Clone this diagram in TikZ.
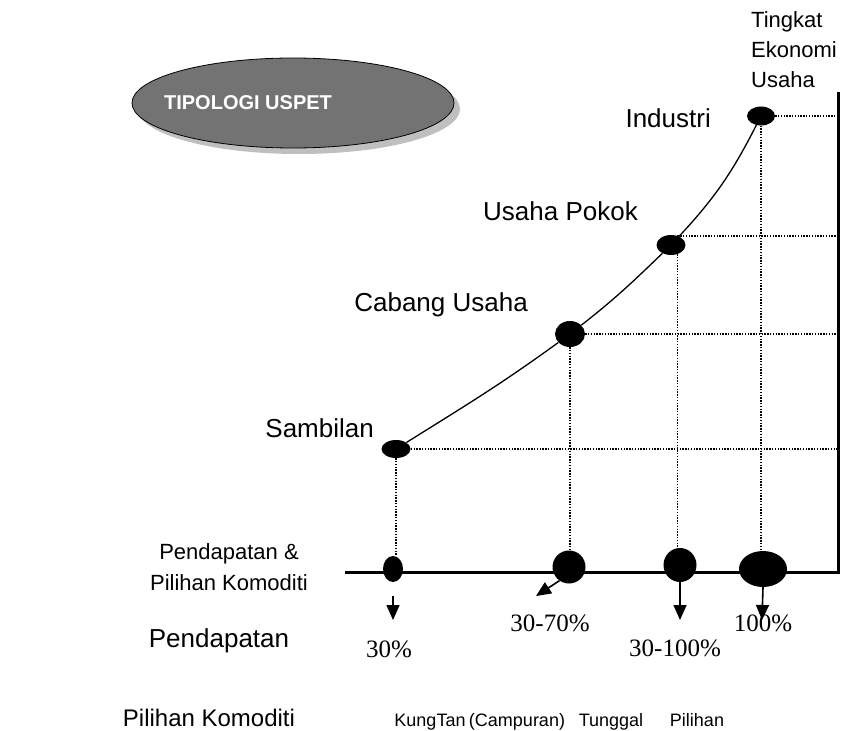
\documentclass[tikz,border=0pt]{standalone}
\usepackage{fontspec}
\setmainfont{Liberation Sans}
\newfontfamily\timesf{Liberation Serif}
\usetikzlibrary{arrows.meta,shapes.geometric}
\tikzset{
  dotnode/.style={ellipse,fill=black,draw=none,inner sep=0pt},
  lbl/.style={font=\fontsize{26}{30}\selectfont,inner sep=0pt},
  small/.style={font=\fontsize{18}{21}\selectfont,inner sep=0pt,anchor=base},
  pct/.style={font=\timesf\fontsize{25}{28}\selectfont,inner sep=0pt,anchor=base},
  grid/.style={line width=1.4pt,dash pattern=on 1.4pt off 1.4pt},
  axis/.style={line width=3pt},
  arr/.style={line width=1.6pt,-{Triangle[width=13pt,length=15pt]}},
}
\begin{document}
\begin{tikzpicture}[x=1pt,y=1pt]
\useasboundingbox (0,0) rectangle (853,-730);
% title ellipse
\fill[black!25] (299,-109) ellipse[x radius=161,y radius=45];
\node[ellipse,draw=black,line width=0.8pt,fill=black!55,minimum width=322pt,minimum height=90pt,inner sep=0pt] (title) at (293,-103) {};
\node[font=\bfseries\fontsize{20}{24}\selectfont,text=white,inner sep=0pt] (titletext) at (248,-103) {TIPOLOGI USPET};
% axis label
\node[align=left,anchor=north west,inner sep=0pt,font=\fontsize{22}{30}\selectfont] (axlabel) at (751,-11) {Tingkat\\Ekonomi\\Usaha};
% axes
\coordinate (axT) at (838,-92);
\coordinate (axB) at (838,-572);
\coordinate (axL) at (345,-572);
\draw[axis] (axT) -- (axB) -- (axL);
% curve dots
\node[dotnode,minimum width=28pt,minimum height=19pt] (ind) at (761,-116) {};
\node[dotnode,minimum width=29pt,minimum height=20pt] (pok) at (671,-245) {};
\node[dotnode,minimum width=30pt,minimum height=26pt] (cab) at (570,-334) {};
\node[dotnode,minimum width=29pt,minimum height=18pt] (sam) at (396,-449) {};
% base dots
\node[dotnode,minimum width=20pt,minimum height=26pt] (b1) at (393,-569) {};
\node[dotnode,minimum width=33pt,minimum height=33pt] (b2) at (569,-567) {};
\node[dotnode,minimum width=33pt,minimum height=34pt] (b3) at (680,-565) {};
\node[dotnode,minimum width=48pt,minimum height=36pt] (b4) at (763,-569) {};
% curve
\draw[line width=1.3pt] (sam) to[out=32,in=216] (cab) to[out=38,in=224] (pok) to[out=47,in=243] (ind);
% grid lines
\draw[grid] (ind.east) -- (ind.east -| axT);
\draw[grid] (ind.south) -- (ind.south |- b4.north);
\draw[grid] (pok.55) -- (pok.55 -| axT);
\draw[grid] (pok.-55) -- (pok.-55 |- b3.north);
\draw[grid] (cab.east) -- (cab.east -| axT);
\draw[grid] (cab.south) -- (cab.south |- b2.north);
\draw[grid] (sam.east) -- (sam.east -| axT);
\draw[grid] (sam.south) -- (sam.south |- b1.north);
% point labels
\node[lbl,anchor=east] (lind) at (711,-118) {Industri};
\node[lbl,anchor=east] (lpok) at (638,-211) {Usaha Pokok};
\node[lbl,anchor=east] (lcab) at (528,-305) {Cabang Usaha};
\node[lbl,anchor=east] (lsam) at (374,-428) {Sambilan};
\node[inner sep=0pt,align=center,font=\fontsize{22}{31}\selectfont] (lpp) at (229,-567) {Pendapatan \&\\Pilihan Komoditi};
% arrows
\coordinate (a1s) at (393,-596);
\coordinate (a1e) at (393,-620);
\coordinate (a2e) at (536,-596);
\coordinate (a3e) at (680,-620);
\coordinate (a4e) at (762,-620);
\draw[arr] (a1s) -- (a1e);
\draw[arr] (b2.-125) -- (a2e);
\draw[arr] (b3.south) -- (a3e);
\draw[arr] (b4.south) -- (a4e);
% percentages
\node[pct] (p1) at (389,-657) {30\%};
\node[pct] (p2) at (550,-631) {30-70\%};
\node[pct] (p3) at (675,-656) {30-100\%};
\node[pct] (p4) at (763,-631) {100\%};
% bottom labels
\node[inner sep=0pt,font=\fontsize{26}{30}\selectfont] (lpend) at (219,-641) {Pendapatan};
\node[inner sep=0pt,anchor=base,font=\fontsize{24}{28}\selectfont] (lkom) at (209,-726) {Pilihan Komoditi};
\node[small] (k1) at (430,-726) {KungTan};
\node[small] (k2) at (517,-726) {(Campuran)};
\node[small] (k3) at (611,-726) {Tunggal};
\node[small] (k4) at (697,-726) {Pilihan};
\end{tikzpicture}
\end{document}
